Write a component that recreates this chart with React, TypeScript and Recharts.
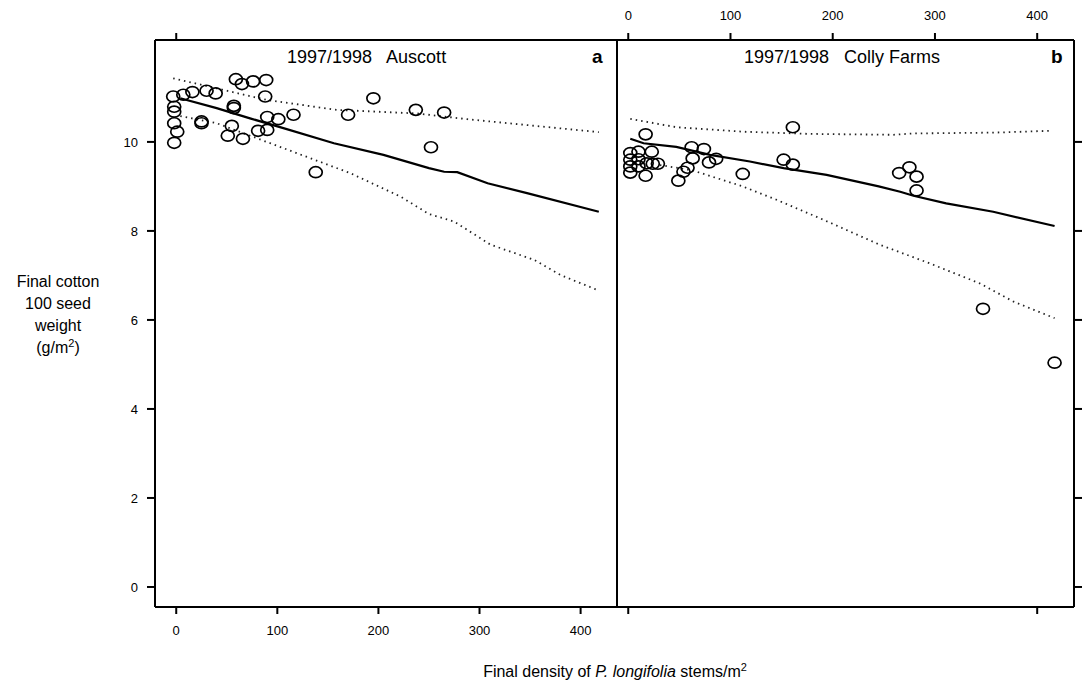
import React from 'react';
import { ComposedChart, Line, Scatter, XAxis, YAxis } from 'recharts';

// density (stems/m2) vs final 100 seed weight
const auscottPoints = [
  { x: -3, y: 11.02 }, { x: 7, y: 11.06 }, { x: -2, y: 10.79 }, { x: -2, y: 10.68 },
  { x: -2, y: 10.42 }, { x: 1, y: 10.23 }, { x: -2, y: 9.98 }, { x: 16, y: 11.12 },
  { x: 30, y: 11.15 }, { x: 39, y: 11.09 }, { x: 25, y: 10.46 }, { x: 25, y: 10.42 },
  { x: 59, y: 11.41 }, { x: 65, y: 11.3 }, { x: 76, y: 11.36 }, { x: 89, y: 11.39 },
  { x: 88, y: 11.02 }, { x: 57, y: 10.81 }, { x: 57, y: 10.76 }, { x: 55, y: 10.36 },
  { x: 51, y: 10.14 }, { x: 66, y: 10.07 }, { x: 81, y: 10.25 }, { x: 90, y: 10.27 },
  { x: 90, y: 10.56 }, { x: 101, y: 10.51 }, { x: 116, y: 10.61 }, { x: 170, y: 10.61 },
  { x: 195, y: 10.98 }, { x: 237, y: 10.72 }, { x: 265, y: 10.66 }, { x: 252, y: 9.88 },
  { x: 138, y: 9.32 },
];
const auscottFit = [
  { x: 4, y: 10.98 }, { x: 40, y: 10.76 }, { x: 73, y: 10.53 }, { x: 106, y: 10.31 },
  { x: 156, y: 9.97 }, { x: 205, y: 9.71 }, { x: 250, y: 9.41 }, { x: 265, y: 9.33 },
  { x: 278, y: 9.32 }, { x: 308, y: 9.07 }, { x: 347, y: 8.85 }, { x: 418, y: 8.43 },
];
const auscottUpper = [
  { x: -3, y: 11.43 }, { x: 90, y: 10.94 }, { x: 159, y: 10.72 }, { x: 238, y: 10.64 },
  { x: 288, y: 10.51 }, { x: 418, y: 10.22 },
];
const auscottLower = [
  { x: 4, y: 10.58 }, { x: 40, y: 10.42 }, { x: 106, y: 9.86 }, { x: 172, y: 9.3 },
  { x: 222, y: 8.77 }, { x: 250, y: 8.38 }, { x: 275, y: 8.21 }, { x: 311, y: 7.69 },
  { x: 354, y: 7.35 }, { x: 380, y: 7.01 }, { x: 418, y: 6.66 },
];

const collyPoints = [
  { x: 17, y: 10.17 }, { x: 2, y: 9.75 }, { x: 10, y: 9.78 }, { x: 23, y: 9.78 },
  { x: 2, y: 9.6 }, { x: 10, y: 9.61 }, { x: 18, y: 9.52 }, { x: 24, y: 9.51 },
  { x: 29, y: 9.51 }, { x: 2, y: 9.45 }, { x: 10, y: 9.45 }, { x: 2, y: 9.31 },
  { x: 17, y: 9.24 }, { x: 49, y: 9.13 }, { x: 54, y: 9.33 }, { x: 58, y: 9.42 },
  { x: 62, y: 9.88 }, { x: 63, y: 9.63 }, { x: 74, y: 9.84 }, { x: 79, y: 9.54 },
  { x: 86, y: 9.62 }, { x: 112, y: 9.28 }, { x: 152, y: 9.6 }, { x: 161, y: 9.49 },
  { x: 161, y: 10.33 }, { x: 265, y: 9.3 }, { x: 275, y: 9.43 }, { x: 282, y: 9.22 },
  { x: 282, y: 8.91 }, { x: 347, y: 6.25 }, { x: 417, y: 5.04 },
];
const collyFit = [
  { x: 2, y: 10.07 }, { x: 15, y: 9.97 }, { x: 47, y: 9.89 }, { x: 80, y: 9.71 },
  { x: 119, y: 9.56 }, { x: 152, y: 9.41 }, { x: 194, y: 9.26 }, { x: 245, y: 9.0 },
  { x: 266, y: 8.88 }, { x: 279, y: 8.79 }, { x: 311, y: 8.62 }, { x: 357, y: 8.43 },
  { x: 417, y: 8.11 },
];
const collyUpper = [
  { x: 2, y: 10.52 }, { x: 47, y: 10.33 }, { x: 112, y: 10.23 }, { x: 178, y: 10.18 },
  { x: 259, y: 10.16 }, { x: 279, y: 10.19 }, { x: 360, y: 10.21 }, { x: 412, y: 10.25 },
];
const collyLower = [
  { x: 31, y: 9.48 }, { x: 63, y: 9.36 }, { x: 112, y: 9.0 }, { x: 145, y: 8.7 },
  { x: 191, y: 8.25 }, { x: 246, y: 7.69 }, { x: 295, y: 7.27 }, { x: 344, y: 6.82 },
  { x: 377, y: 6.41 }, { x: 417, y: 6.04 },
];

const yTicks = [0, 2, 4, 6, 8, 10];
const xTicks = [0, 100, 200, 300, 400];

const font = '"Liberation Sans", Arial, sans-serif';
const yDomain = [-0.45, 12.29];
const axisStyle = { stroke: '#000', strokeWidth: 2 };
const tickStyle = { fill: '#000', fontSize: 13, fontFamily: font };
const noLabel = () => <g />;

function Ring(props: any) {
  const { cx, cy } = props;
  if (cx == null || cy == null) return null;
  return <ellipse cx={cx} cy={cy} rx={6.5} ry={5.5} fill="none" stroke="#000" strokeWidth={1.7} />;
}

function Bands({ fit, upper, lower, points }: any) {
  return [
    <Line key="u" xAxisId="b" data={upper} dataKey="y" type="linear" dot={false} stroke="#222"
      strokeWidth={1.8} strokeDasharray="1.5 4" isAnimationActive={false} />,
    <Line key="l" xAxisId="b" data={lower} dataKey="y" type="linear" dot={false} stroke="#222"
      strokeWidth={1.8} strokeDasharray="1.5 4" isAnimationActive={false} />,
    <Line key="f" xAxisId="b" data={fit} dataKey="y" type="linear" dot={false} stroke="#000"
      strokeWidth={2.2} isAnimationActive={false} />,
    <Scatter key="s" xAxisId="b" data={points} dataKey="y" shape={<Ring />} isAnimationActive={false} />,
    // ties the top and right axes to a scale; draws nothing
    <Line key="h" xAxisId="t" yAxisId="r" data={fit} dataKey="y" stroke="none" dot={false}
      activeDot={false} isAnimationActive={false} />,
  ];
}

export default function App() {
  return (
    <div style={{ position: 'absolute', left: 0, top: 0, width: 1083, height: 693, background: '#fff', fontFamily: font }}>
      <div style={{ position: 'absolute', left: 0, top: 0 }}>
        <ComposedChart width={640} height={693} margin={{ top: 20, left: 95, right: 22, bottom: 56 }}>
          <XAxis xAxisId="b" dataKey="x" type="number" domain={[-21, 436]} ticks={xTicks} allowDataOverflow
            axisLine={axisStyle} tickLine={axisStyle} tickSize={7} tickMargin={12} tick={tickStyle} height={30} />
          <XAxis xAxisId="t" orientation="top" dataKey="x" type="number" domain={[-21, 436]} ticks={[0]} allowDataOverflow
            axisLine={axisStyle} tickLine={axisStyle} tickSize={7} tick={noLabel} height={20} />
          <YAxis yAxisId={0} type="number" domain={yDomain} ticks={yTicks} allowDataOverflow width={60}
            axisLine={axisStyle} tickLine={axisStyle} tickSize={8} tickMargin={9} tick={tickStyle} />
          <YAxis yAxisId="r" orientation="right" type="number" domain={yDomain} ticks={[]} allowDataOverflow width={1}
            axisLine={axisStyle} tick={false} tickLine={false} />
          {Bands({ fit: auscottFit, upper: auscottUpper, lower: auscottLower, points: auscottPoints })}
        </ComposedChart>
      </div>
      <div style={{ position: 'absolute', left: 600, top: 0 }}>
        <ComposedChart width={483} height={693} margin={{ top: 0, left: 16, right: 0, bottom: 56 }}>
          <XAxis xAxisId="b" dataKey="x" type="number" domain={[-11, 436]} ticks={[0, 400]} allowDataOverflow
            axisLine={axisStyle} tickLine={axisStyle} tickSize={7} tick={noLabel} height={30} />
          <XAxis xAxisId="t" orientation="top" dataKey="x" type="number" domain={[-11, 436]} ticks={xTicks} allowDataOverflow
            axisLine={axisStyle} tickLine={axisStyle} tickSize={7} tickMargin={13} tick={tickStyle} height={40} />
          <YAxis yAxisId={0} type="number" domain={yDomain} ticks={[]} allowDataOverflow width={1}
            axisLine={axisStyle} tick={false} tickLine={false} />
          <YAxis yAxisId="r" orientation="right" type="number" domain={yDomain} ticks={yTicks} allowDataOverflow width={9}
            axisLine={axisStyle} tickLine={axisStyle} tickSize={8} tick={noLabel} />
          {Bands({ fit: collyFit, upper: collyUpper, lower: collyLower, points: collyPoints })}
        </ComposedChart>
      </div>

      <div style={{ position: 'absolute', left: 287, top: 47, fontSize: 18, whiteSpace: 'pre', lineHeight: '20px' }}>
        1997/1998   Auscott
      </div>
      <div style={{ position: 'absolute', left: 592, top: 47, fontSize: 19, fontWeight: 'bold', lineHeight: '20px' }}>a</div>
      <div style={{ position: 'absolute', left: 744, top: 47, fontSize: 18, whiteSpace: 'pre', lineHeight: '20px' }}>
        1997/1998   Colly Farms
      </div>
      <div style={{ position: 'absolute', left: 1051, top: 47, fontSize: 19, fontWeight: 'bold', lineHeight: '20px' }}>b</div>

      <div style={{ position: 'absolute', left: 0, top: 271, width: 116, textAlign: 'center', fontSize: 16, lineHeight: '22px' }}>
        Final cotton<br />100 seed<br />weight<br />(g/m<sup style={{ fontSize: 11, lineHeight: 0 }}>2</sup>)
      </div>
      <div style={{ position: 'absolute', left: 155, width: 920, top: 662, textAlign: 'center', fontSize: 16, lineHeight: '20px' }}>
        Final density of <i>P. longifolia</i> stems/m<sup style={{ fontSize: 11, lineHeight: 0 }}>2</sup>
      </div>
    </div>
  );
}
